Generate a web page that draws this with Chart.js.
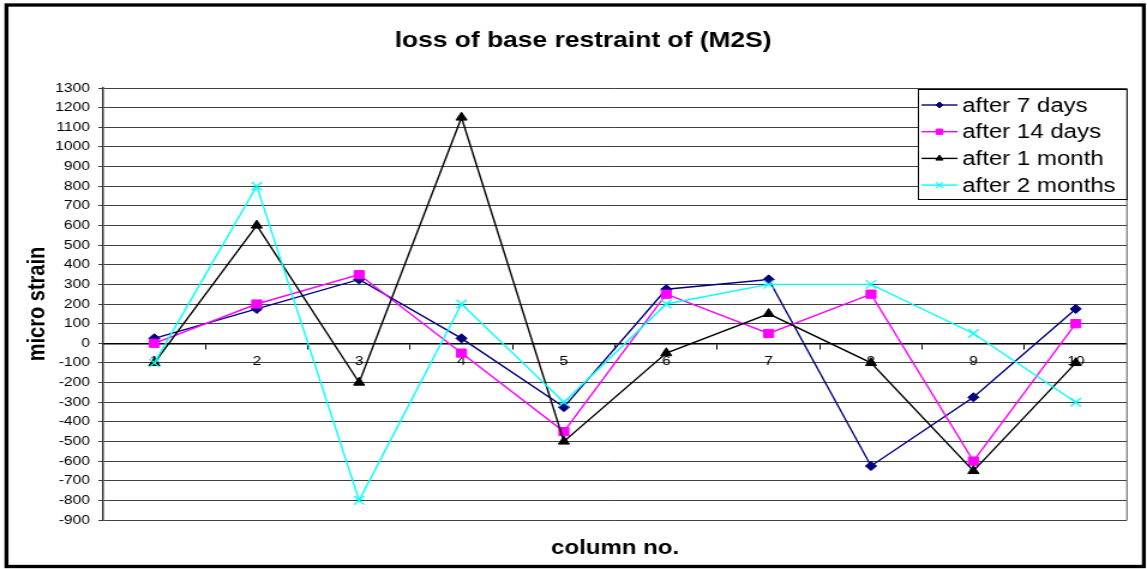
<!DOCTYPE html>
<html>
<head>
<meta charset="utf-8">
<title>loss of base restraint of (M2S)</title>
<script src="https://cdn.jsdelivr.net/npm/chart.js@4.4.1/dist/chart.umd.min.js"></script>
<style>
  html, body { margin: 0; padding: 0; background: #ffffff; overflow: hidden; }
  /* the chart is laid out on a narrower canvas and widened to the full page width */
  #wrap {
    width: 956px;
    height: 569px;
    transform: scaleX(1.19979);
    transform-origin: 0 0;
  }
  canvas { display: block; }
</style>
</head>
<body>
<div id="wrap"><canvas id="chart" width="956" height="569"></canvas></div>
<script>
// Column numbers along the horizontal axis
const columns = ['1', '2', '3', '4', '5', '6', '7', '8', '9', '10'];

// Measured micro strain per column for each reading
const after7Days    = [25, 175, 325, 25, -325, 275, 325, -625, -275, 175];
const after14Days   = [0, 200, 350, -50, -450, 250, 50, 250, -600, 100];
const after1Month   = [-100, 600, -200, 1150, -500, -50, 150, -100, -650, -100];
const after2Months  = [-100, 800, -800, 200, -300, 200, 300, 300, 50, -300];

const seriesNames = ['after 7 days', 'after 14 days', 'after 1 month', 'after 2 months'];

// Value axis range and step
const yMin = -900;
const yMax = 1300;
const yStep = 100;

const chartTitle = 'loss of base restraint of (M2S)';
const xTitle = 'column no.';
const yTitle = 'micro strain';

const FONT = '"Liberation Sans", Arial, sans-serif';

const seriesStyles = [
  { color: '#000080', pointStyle: 'rectRot', radius: 4.6, pointBorderWidth: 1 },
  { color: '#FF00FF', pointStyle: 'rect', radius: 5.8, pointBorderWidth: 1 },
  { color: '#000000', pointStyle: 'triangle', radius: 5.3, pointBorderWidth: 1 },
  { color: '#00FFFF', pointStyle: 'crossRot', radius: 6, pointBorderWidth: 1.3 }
];

const seriesValues = [after7Days, after14Days, after1Month, after2Months];

const datasets = seriesValues.map((vals, i) => ({
  label: seriesNames[i],
  data: vals,
  borderColor: seriesStyles[i].color,
  backgroundColor: seriesStyles[i].color,
  pointBackgroundColor: seriesStyles[i].color,
  pointBorderColor: seriesStyles[i].color,
  pointStyle: seriesStyles[i].pointStyle,
  pointRadius: seriesStyles[i].radius,
  pointHoverRadius: seriesStyles[i].radius,
  pointBorderWidth: seriesStyles[i].pointBorderWidth,
  borderWidth: 1.4,
  tension: 0,
  fill: false,
  order: seriesValues.length - i   // later series are painted on top
}));

// White page, outer frame, titles and the boxed legend
const decorations = {
  id: 'decorations',
  beforeDraw(chart) {
    const ctx = chart.ctx;
    ctx.save();
    ctx.fillStyle = '#ffffff';
    ctx.fillRect(0, 0, chart.width, chart.height);
    ctx.restore();
  },
  beforeDatasetsDraw(chart) {
    const { ctx, chartArea: a } = chart;
    ctx.save();
    ctx.strokeStyle = '#808080';
    ctx.lineWidth = 1.3;
    ctx.beginPath();
    ctx.moveTo(a.right, a.top);
    ctx.lineTo(a.right, a.bottom);
    ctx.stroke();
    ctx.restore();
  },
  afterDraw(chart) {
    const { ctx, chartArea: a } = chart;
    ctx.save();

    // outer frame
    ctx.strokeStyle = '#000000';
    ctx.lineWidth = 3.3;
    ctx.strokeRect(5.4, 5, 948, 561.5);

    // chart title
    ctx.fillStyle = '#000000';
    ctx.textAlign = 'center';
    ctx.textBaseline = 'middle';
    ctx.font = 'bold 22px ' + FONT;
    ctx.fillText(chartTitle, 486, 41);

    // horizontal axis title
    ctx.font = 'bold 20px ' + FONT;
    ctx.fillText(xTitle, (a.left + a.right) / 2, 548);

    // vertical axis title
    ctx.save();
    ctx.translate(31, (a.top + a.bottom) / 2);
    ctx.rotate(-Math.PI / 2);
    ctx.fillText(yTitle, 0, 0);
    ctx.restore();

    // legend box
    const box = { x: 765.5, y: 89.5, w: a.right - 765.5, h: 110 };
    ctx.fillStyle = '#ffffff';
    ctx.fillRect(box.x, box.y, box.w, box.h);
    ctx.strokeStyle = '#000000';
    ctx.lineWidth = 1;
    ctx.strokeRect(box.x, box.y, box.w, box.h);

    ctx.font = '20px ' + FONT;
    ctx.textAlign = 'left';
    ctx.textBaseline = 'middle';
    chart.data.datasets.forEach((ds, i) => {
      const y = 105 + i * 26.7;
      ctx.strokeStyle = ds.borderColor;
      ctx.lineWidth = 1.4;
      ctx.beginPath();
      ctx.moveTo(768, y);
      ctx.lineTo(798, y);
      ctx.stroke();
      ctx.fillStyle = ds.pointBackgroundColor;
      ctx.strokeStyle = ds.pointBorderColor;
      ctx.lineWidth = ds.pointBorderWidth;
      if (Chart.helpers && Chart.helpers.drawPoint) {
        Chart.helpers.drawPoint(ctx, {
          pointStyle: ds.pointStyle,
          radius: ds.pointRadius * 0.65,
          rotation: 0,
          borderWidth: ds.pointBorderWidth
        }, 783, y);
      }
      ctx.fillStyle = '#000000';
      ctx.fillText(ds.label, 802, y + 1);
    });

    ctx.restore();
  }
};

new Chart(document.getElementById('chart'), {
  type: 'line',
  data: { labels: columns, datasets },
  options: {
    responsive: false,
    animation: false,
    devicePixelRatio: 1,
    layout: { padding: { left: 0, top: 88, right: 16.7, bottom: 49 } },
    plugins: {
      legend: { display: false },
      title: { display: false },
      tooltip: { enabled: false }
    },
    scales: {
      x: {
        type: 'category',
        position: { y: 0 },
        offset: true,
        grid: {
          offset: true,
          drawOnChartArea: false,
          drawTicks: true,
          tickLength: 5,
          color: '#000000',
          lineWidth: 1
        },
        border: { display: true, color: '#000000', width: 1.5 },
        ticks: {
          color: '#000000',
          font: { family: FONT, size: 13 },
          padding: 5,
          maxRotation: 0,
          autoSkip: false
        }
      },
      y: {
        type: 'linear',
        min: yMin,
        max: yMax,
        afterFit(scale) { scale.width = 86; },
        grid: {
          color: '#404040',
          lineWidth: 1,
          drawTicks: true,
          tickLength: 4
        },
        border: { display: true, color: '#303030', width: 1.5 },
        ticks: {
          stepSize: yStep,
          autoSkip: false,
          color: '#000000',
          font: { family: FONT, size: 13 },
          padding: 7,
          callback: (v) => String(v)
        }
      }
    }
  },
  plugins: [decorations]
});
</script>
</body>
</html>
